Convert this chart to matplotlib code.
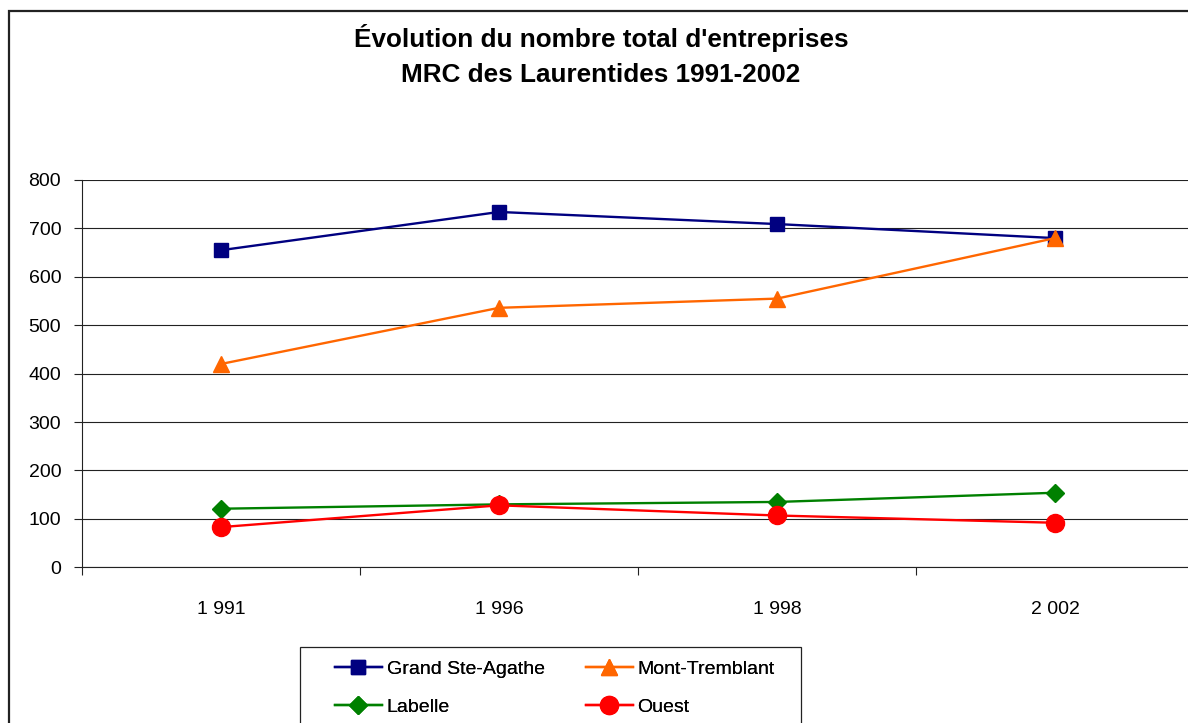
import matplotlib
matplotlib.use("Agg")
import matplotlib.pyplot as plt
from matplotlib import font_manager
from matplotlib.patches import Rectangle

# ── data ───────────────────────────────────────────────────────────────────────
YEARS = ["1 991", "1 996", "1 998", "2 002"]
GRAND_STE_AGATHE = [655, 734, 709, 680]
MONT_TREMBLANT   = [420, 536, 555, 680]
LABELLE          = [121, 130, 135, 154]
OUEST            = [83, 128, 107, 92]

SERIES = [
    ("Grand Ste-Agathe", GRAND_STE_AGATHE, "#000080", "s", 10),
    ("Mont-Tremblant",   MONT_TREMBLANT,   "#FF6600", "^", 11),
    ("Labelle",          LABELLE,          "#008000", "D", 9),
    ("Ouest",            OUEST,            "#FF0000", "o", 13),
]

# ── font ───────────────────────────────────────────────────────────────────────
names = {f.name for f in font_manager.fontManager.ttflist}
FONT = "Liberation Sans Narrow" if "Liberation Sans Narrow" in names else "Liberation Sans"
plt.rcParams["font.family"] = [FONT, "DejaVu Sans"]

W, H = 1188, 723
fig = plt.figure(figsize=(W / 100, H / 100), dpi=100, facecolor="white")

# outer chart frame (cropped on the right and bottom)
fig.patches.append(Rectangle((9 / W, -0.1), 2.0, 1 - 11 / H + 0.1,
                             transform=fig.transFigure, fill=False,
                             edgecolor="#222222", lw=1.6))

fig.text(601 / W, 1 - 38 / H, "Évolution du nombre total d'entreprises",
         ha="center", va="center", fontsize=18.8, fontweight="bold")
fig.text(601 / W, 1 - 75 / H, "MRC des Laurentides 1991-2002",
         ha="center", va="center", fontsize=18.8, fontweight="bold")

# plot area
x0, x1 = 82 / W, 1194 / W
y0, y1 = 1 - 567.3 / H, 1 - 180 / H
ax = fig.add_axes([x0, y0, x1 - x0, y1 - y0])
ax.set_facecolor("none")

xs = list(range(len(YEARS)))
handles = {}
for label, vals, color, marker, ms in SERIES:
    ln, = ax.plot(xs, vals, color=color, lw=1.7, marker=marker, ms=ms,
                  markeredgecolor=color, label=label, clip_on=False, zorder=3)
    handles[label] = ln

ax.set_xlim(-0.5, len(YEARS) - 0.5)
ax.set_ylim(0, 800)
ax.set_yticks(range(0, 801, 100))
ax.yaxis.grid(True, color="#222222", lw=0.8)
ax.set_axisbelow(True)

for s in ["top", "right"]:
    ax.spines[s].set_visible(False)
for s in ["left", "bottom"]:
    ax.spines[s].set_color("#222222")
    ax.spines[s].set_linewidth(0.8)

ax.set_xticks(xs)
ax.set_xticklabels(YEARS)
ax.set_xticks([i - 0.5 for i in range(len(YEARS) + 1)], minor=True)
ax.tick_params(axis="x", which="major", length=0, pad=24, labelsize=14)
ax.tick_params(axis="x", which="minor", length=6, direction="out",
               color="#222222", width=0.8)
ax.tick_params(axis="y", length=6, direction="out", pad=9, labelsize=14,
               color="#222222", width=0.8)

# legend: frame drawn separately, two columns as two frameless legends
fig.patches.append(Rectangle((300 / W, -0.1), 501 / W, 1 - 647 / H + 0.1,
                             transform=fig.transFigure, fill=False,
                             edgecolor="#222222", lw=0.9))
leg_kw = dict(loc="upper left", frameon=False, fontsize=14, handlelength=2.4,
              handletextpad=0.25, labelspacing=1.05, borderpad=0,
              borderaxespad=0)
cols = [(["Grand Ste-Agathe", "Labelle"], 335), (["Mont-Tremblant", "Ouest"], 586)]
for labels, xpx in cols:
    leg = fig.legend([handles[l] for l in labels], labels,
                     bbox_to_anchor=(xpx / W, 1 - 660 / H), **leg_kw)
    fig.add_artist(leg)

fig.savefig("out.png", dpi=100, facecolor="white")
